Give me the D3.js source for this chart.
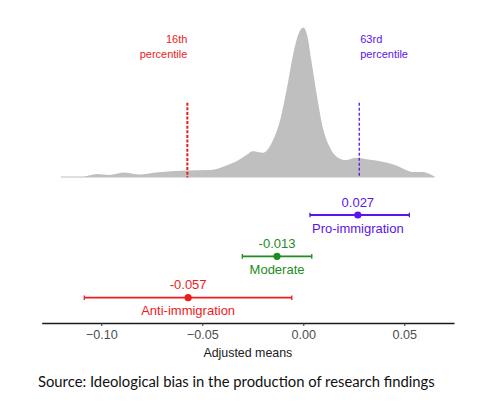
<!DOCTYPE html>
<html>
<head>
<meta charset="utf-8">
<script src="https://cdn.jsdelivr.net/npm/d3@7"></script>
<style>
  body { margin: 0; background: #fff; }
  svg { display: block; font-family: "Liberation Sans", Arial, sans-serif; }
</style>
</head>
<body>
<svg id="chart" width="480" height="415"></svg>
<script>
// density of adjusted means (x value, density)
const densityX = [-0.120, -0.109, -0.102, -0.096, -0.089, -0.081, -0.073, -0.058, -0.046, -0.038,
  -0.032, -0.028, -0.025, -0.020, -0.015, -0.0115, -0.008, -0.005, -0.0025, 0.000,
  0.002, 0.004, 0.0066, 0.010, 0.013, 0.0165, 0.021, 0.026, 0.030, 0.036,
  0.041, 0.046, 0.051, 0.054, 0.059, 0.063, 0.065];
const densityY = [0.2, 0.2, 0.7, 0.5, 1.0, 0.6, 1.0, 1.4, 1.5, 2.4,
  3.5, 4.6, 5.3, 5.0, 7.5, 11.5, 18.2, 24.8, 28.8, 30.2,
  28.5, 23.5, 16.8, 9.5, 6.2, 4.2, 3.5, 4.0, 3.8, 3.4,
  3.0, 2.4, 1.5, 1.1, 1.1, 0.6, 0.2];

// groups: estimate and confidence interval
const groups = ['Anti-immigration', 'Moderate', 'Pro-immigration'];
const means = [-0.057, -0.013, 0.027];
const lower = [-0.1084, -0.0302, 0.0033];
const upper = [-0.0057, 0.0042, 0.0525];
const meanLabels = ['-0.057', '-0.013', '0.027'];
const groupColors = ['#f01a1a', '#1e8c1e', '#5a14ec'];

// percentile markers
const pctValues = [-0.0574, 0.0277];
const pctLabels = [['16th', 'percentile'], ['63rd', 'percentile']];
const pctColors = ['#f01a1a', '#5a14ec'];

const tickValues = [-0.10, -0.05, 0.00, 0.05];

const svg = d3.select('#chart');

const x = d3.scaleLinear()
    .domain([-0.1295, 0.0746])
    .range([41.7, 454]);

const yDens = d3.scaleLinear()
    .domain([0, 30])
    .range([177.5, 28.5]);

const yGroup = d3.scalePoint()
    .domain(groups)
    .range([297.7, 215]);

// Density area
const densData = densityX.map((v, i) => ({ x: v, y: densityY[i] }));
const area = d3.area()
    .x(d => x(d.x))
    .y0(yDens(0))
    .y1(d => yDens(d.y))
    .curve(d3.curveMonotoneX);

svg.append('path')
    .datum(densData)
    .attr('d', area)
    .attr('fill', '#bfbfbf');

// Percentile lines + labels
pctValues.forEach((v, i) => {
    svg.append('line')
        .attr('x1', x(v)).attr('x2', x(v))
        .attr('y1', 102.7).attr('y2', yDens(0))
        .attr('stroke', pctColors[i])
        .attr('stroke-width', i === 0 ? 2 : 1.3)
        .attr('stroke-dasharray', i === 0 ? '3,1.6' : '3,2');

    const t = svg.append('text')
        .attr('x', x(v) + (i === 0 ? 0 : 1))
        .attr('y', 43.3)
        .attr('text-anchor', i === 0 ? 'end' : 'start')
        .attr('fill', pctColors[i])
        .attr('font-size', '11px');
    pctLabels[i].forEach((s, j) => {
        t.append('tspan')
            .attr('x', x(v) + (i === 0 ? 0 : 1))
            .attr('dy', j === 0 ? 0 : 15)
            .text(s);
    });
});

// Error bars
const rows = groups.map((g, i) => ({
    group: g, mean: means[i], lo: lower[i], hi: upper[i],
    label: meanLabels[i], color: groupColors[i]
}));

const row = svg.selectAll('g.row')
    .data(rows)
    .enter()
    .append('g')
    .attr('class', 'row')
    .attr('transform', d => `translate(0,${yGroup(d.group)})`);

row.append('line')
    .attr('x1', d => x(d.lo)).attr('x2', d => x(d.hi))
    .attr('stroke', d => d.color)
    .attr('stroke-width', 1.8);

row.selectAll('line.cap')
    .data(d => [{ v: d.lo, c: d.color }, { v: d.hi, c: d.color }])
    .enter()
    .append('line')
    .attr('class', 'cap')
    .attr('x1', d => x(d.v)).attr('x2', d => x(d.v))
    .attr('y1', -2.3).attr('y2', 2.3)
    .attr('stroke', d => d.c)
    .attr('stroke-width', 1.3);

row.append('circle')
    .attr('cx', d => x(d.mean))
    .attr('r', 3.6)
    .attr('fill', d => d.color);

row.append('text')
    .attr('x', d => x(d.mean))
    .attr('y', -8.4)
    .attr('text-anchor', 'middle')
    .attr('fill', d => d.color)
    .attr('font-size', '13px')
    .text(d => d.label);

row.append('text')
    .attr('x', d => x(d.mean))
    .attr('y', 17.8)
    .attr('text-anchor', 'middle')
    .attr('fill', d => d.color)
    .attr('font-size', '13px')
    .text(d => d.group);

// X axis
const axis = svg.append('g')
    .attr('transform', 'translate(0,323)')
    .call(d3.axisBottom(x)
        .tickValues(tickValues)
        .tickSize(3)
        .tickSizeOuter(0)
        .tickPadding(4)
        .tickFormat(d => d3.format('.2f')(d).replace('-', '\u2212')));

axis.select('.domain')
    .attr('stroke', '#1a1a1a')
    .attr('stroke-width', 1.4);
axis.selectAll('.tick line')
    .attr('stroke', '#333');
axis.selectAll('.tick text')
    .attr('fill', '#4d4d4d')
    .attr('font-size', '12.6px')
    .attr('font-family', '"Liberation Sans", Arial, sans-serif');

svg.append('text')
    .attr('x', (x.range()[0] + x.range()[1]) / 2)
    .attr('y', 357)
    .attr('text-anchor', 'middle')
    .attr('fill', '#1a1a1a')
    .attr('font-size', '12.4px')
    .text('Adjusted means');

// Source caption
const src = svg.append('text')
    .attr('x', 38)
    .attr('y', 386.7)
    .attr('fill', '#111')
    .attr('font-family', 'Lato, "Open Sans", sans-serif')
    .attr('font-size', '16px')
    .text('Source: Ideological bias in the production of research findings');
const w = src.node().getComputedTextLength();
src.attr('font-size', (16 * 397 / w).toFixed(2) + 'px');
</script>
</body>
</html>
